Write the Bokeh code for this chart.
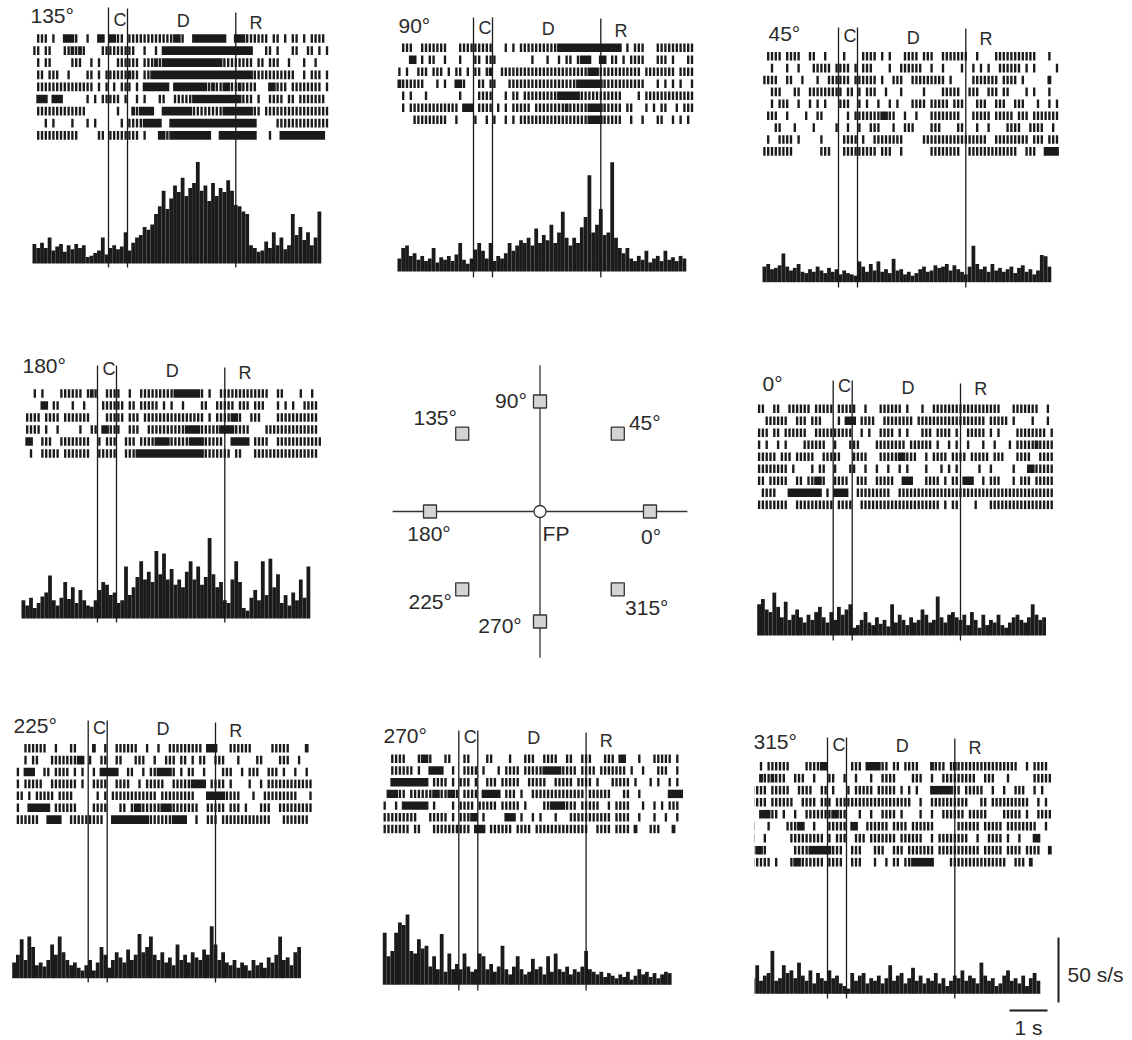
from bokeh.plotting import figure
from bokeh.layouts import column, row
from bokeh.models import Range1d
from bokeh.embed import file_html
from bokeh.resources import INLINE
from bokeh.core.properties import value
import math

# ---------------- data ----------------
T0 = -2.0          # s, start of each record (cue onset = 0)
BIN = 0.1          # s, histogram bin / raster cell
EVENTS = [0.0, 0.5, 3.35]          # cue on, cue off, response
EVENT_LETTERS = ["C", "D", "R"]
LETTER_T = [0.30, 1.97, 3.88]
DIRECTIONS = [135, 90, 45, 180, 0, 225, 270, 315]

RATE_135 = [15,12,16,12,20,10,13,15,9,14, 11,15,12,14,5,6,8,10,20,7, 12,14,11,13,24,10,16,20,22,28,
            26,30,38,44,56,42,50,60,55,66, 52,58,62,78,56,60,48,62,52,58, 55,64,56,45,44,40,38,14,12,9,
            10,17,12,24,14,20,11,14,38,22, 28,18,24,14,20,40]
RATE_90 = [10,18,20,12,14,9,12,8,10,18, 7,11,9,12,8,13,22,9,6,10, 17,22,16,10,22,8,12,10,14,22,
           16,20,24,22,26,20,33,22,28,24, 36,22,30,46,26,20,26,22,34,42, 74,30,36,48,28,30,84,26,18,14,
           18,10,8,12,9,16,7,10,12,8, 16,9,11,8,12,10]
RATE_45 = [12,14,10,11,13,22,12,9,11,14, 8,7,10,8,12,9,7,11,8,10, 6,9,7,6,5,16,12,8,14,9,
           16,8,10,7,18,9,10,6,8,5, 7,10,12,8,9,13,11,12,14,9, 13,10,8,6,12,28,14,10,12,8,
           14,9,11,8,10,12,7,11,13,8, 10,6,9,21,20,12]
RATE_180 = [14,10,16,8,12,17,20,33,14,10, 16,28,15,24,12,22,14,10,9,14, 22,28,26,18,20,12,14,40,18,24,
            32,44,30,36,28,52,34,50,30,38, 26,30,24,36,44,30,40,26,32,62, 34,24,28,14,12,30,44,28,8,6,
            16,22,14,44,18,46,24,34,12,18, 10,20,14,30,16,40]
RATE_0 = [24,28,20,18,33,22,14,26,12,16, 20,14,10,16,12,18,22,14,10,18, 12,22,16,20,24,6,8,12,18,10,
          8,14,9,12,7,24,10,16,12,8, 14,10,12,20,16,10,12,30,14,10, 16,18,14,12,16,8,18,12,6,16,
          8,12,10,16,8,6,10,14,16,12, 10,14,24,16,12,14]
RATE_225 = [12,18,30,14,32,24,10,12,9,14, 26,18,32,20,14,10,12,8,6,10, 14,6,12,24,18,8,14,20,16,12,
            22,14,18,34,20,24,32,18,14,20, 12,16,10,26,14,18,12,20,16,14, 22,18,40,26,14,20,12,10,14,8,
            12,10,6,14,10,12,8,16,12,18, 32,14,16,10,20,24]
RATE_270 = [40,22,26,40,48,46,54,26,24,35, 28,30,14,22,12,39,10,24,12,16, 12,24,14,10,12,24,22,12,16,10,
            14,30,12,8,14,22,12,8,10,20, 12,14,8,22,10,24,12,10,14,8, 12,10,14,26,12,10,8,10,6,9,
            7,5,8,6,10,4,7,12,8,10, 6,9,5,8,10,9]
RATE_315 = [12,22,10,14,16,33,10,12,22,16, 18,12,24,14,10,18,8,16,12,10, 18,12,14,8,6,4,16,10,14,16,
            8,12,10,14,8,12,22,10,14,16, 8,12,20,10,14,8,12,10,16,8, 12,6,10,14,12,18,10,14,12,8,
            24,14,10,12,6,8,14,18,10,12, 8,14,6,12,16,10]

# raster rows: one character per 0.1 s cell: '|' single spike, '#' burst, ' ' none
RASTER_135 = [
    " ||| |  ##" "#|  |  ## " "##|| |||||" "|||||||##|" "  ########" "#  ###||||" "|| || | ||" " | ||||",
    "|| ||   ||" "#|#|    ||" "|||||||  |" "  | ######" "##########" "########  " " || |   ||" "  || | |",
    " | ||     " "|||  | |  " "  |||||| |" "||#|######" "##########" "|||||||| |" "| |||  |  " " |  |",
    " || |||  |" "    || | |" "|||||#|| |" "|#########" "##########" "########||" "||||||||| " " | ||| |",
    " |||||||||" "|||||| | |" " | ||| | #" "###### ###" "######|#||" "##||#|||| " "  ##||| ||" "|||||| |",
    " ### ###  " "    | | ||" "||| |  | |" "   ||  |||" "||########" "#####||| |" "  |||| || " "|||||||",
    " |||||||||" "||||      " "  |   #|##" "##  ######" "##||||||||" "########||" " |||||||||" "||||||||",
    "   | |    " "|   | |   " "   | ||||#" "####  ####" "##########" "######### " "    ||||||" "||||||||",
    " |||||||||" "||     || " "|||||||| |" "   ##|####" "#######  #" "######### " "  |  #####" "#######",
]
RASTER_90 = [
    " |||  ||||" "|||   ||||" "|||||   | " "| ||||||||" "||########" "######### " "| |||   ||" "||||||||",
    "   ## | ||" "  |   |   " "|| |||    " "     |   |" "  | || |##" "#  ## || |" " ||||   ||" "| |   ||",
    "| |  ||| |" "|| | || | " "|| |#  |||" "||||||||||" "||||||||||" "###|||||||" "|||| |||||" "||| ||||",
    "#||||||   " "| |  ##|  " " || ||   |" "||||||||||" "|||||||###" "####||||||" "|||||   | " "| | |  |",
    " | |   |  " "      |   " " ||||   | " "|| |||||||" "||######||" "||||||||| " "   | |||||" "||||||||",
    " | |||||||" "|||||| ###" " |||| | | " "||||| ||||" "||||#|||||" "####||||| " "||   | | |" "|  | |||",
    "    ||||||" "|||  |    " "|  | |  | " "| ||||||||" "||||||||||" "####||||| " " |  |   ||" "  | | |",
]
RASTER_45 = [
    " |||| ||||" "  ||  |   " " |    ||||" " | |   |||" "| |||  |||" "||||  |   " " |||||||||" "||   |",
    "  |   |  |" "   ||||| |" "||| | ||| " "   |  ||||" "||  |  |  " "  |  | | |" "  |||||| |" " |     |",
    "||||  ||  " "|   |  |||" "||| ||||||" " |  |||  |" "|||||||| |" "     |||||" "|| |||| | " "     #",
    "  |||   ||" "  ||||||||" "| || | |||" "  |   |   " "  |    |||" "||  |||  |" "|| ||    |" " |   |",
    "  | |||  |" "  | | |   " "|||  | |  " "|  | |   |" "||| ||||| " "|||   ||| " " |||  ||| " "  |  | |",
    " |||  |   " " |  ||    " "  | ||||||" "|##||  |  " "|   ||||||" "||   |||||" " ||||| |||" " |||||||",
    "   ||   | " "   |     |" "  |  |  ||" "|   |  |||" "    |||   " " ||   |  |" "    ||||  " "||||  |",
    " |  |||| |" "     |    " " |||| |  |" "|||||||   " "  ||||||||" "||||||||| " " |||||||||" " ||| |||",
    "||||||||  " "     |||  " " |||||||||" " |||  |   " "    ||||||" "||  ||||||" "|||||||  |" "||  ####",
]
RASTER_180 = [
    "   | |    " "|||||| |#|" "  ||||  | " " |||||||||" "#######| |" "  ||||||||" "|||||  || " "   |  |",
    "     ## ||" "   |  |   " " |||||| ||" " ||||| | |" "  |    || " " ||||| |||" " |||   | |" " |  ||||",
    " |||| ||||" " |||||||  " "  ||||| ||" "| ||||||||" "|||||||| |" " ||||##|  " "|||    |||" "||||||||",
    " |||| |  |" "     |  ||" " ##|||  ||" "|  |||||||" "|||####|||" "||####||||" "    ||||||" "||||||||",
    " ##  |||  " "||||||||  " "| |||  |||" " ||||####|" "||||####||" "|||  #####" " ||||  |||" "|||||||||",
    "  |  |||||" " |||||||  " "|||||  |||" "##########" "########||" "||||| ||  " " |||||||||" "||||||||",
]
RASTER_0 = [
    "||  ||  ||" "|||| |||||" " |||||  | " "  |||||| |" "   |  ||||" "||||||||||" "||||   |||" "||||  |",
    "  ||||||  " "||| |||   " " | ### |||" "|  |||||||" "| ||||||||" "||||||||||" " ||||| |  " "  |   |",
    "||| || |||" "|||  |||||" "|||||  | |" "  |||| | |" "   ||| |||" "| |  |||||" " | |    ||" "|||||| |",
    "| |  | |  " "  ||||||  " "|   |||   " " |||||||| " "|||||| |  " "| |  |   |" "  |   | ||" "|||#||||",
    "||||| ||| " "|||||  |||" "||   |||| " "  |||||##|" "||  | ||||" " |||| ||||" "| |||   ||" "||  ||||",
    "|||||||| |" "    | ||  " "|   ||  | " " |  |  | |" "    |   | " "| |     | " " |     |  " " ##|||||",
    "|| |||||  " "|| ||##|  " "||||  ||| " " |||||  ##" "#   |||| |" " || ###  |" " |||   | |" "|| |||||",
    " ||||   ##" "####### | " "####  ||||" "|||||  |||" "||||||||||" "||||||||||" "||||||||||" "||||||||",
    "||||||||  " "||||||||||" " ||||  |||" "||||||||||" "|||||||| |" " ||    |  " " |||||||||" "||||||||",
]
RASTER_225 = [
    "   |||||| " " |   ||   " " #  |  |||" "|||  |  | " " |||||||||" " ###   |||" "|||     ||" "|||    #",
    "   | ||   " "|||||||## " "|  ||  || " "  |||  |  " "||| || | |" "|  |||   |" "    ||    " "|||  |",
    " | ###  ||" " |||| | | " " | #####  " "||  | ||##" "##| | ||  " "|    |||  " "| |||  |||" " |  |  |",
    " | |||||  " "||||||| | " " ||||  |||" "|  | |||||" "  |||||###" "# |||| |  " "  |  | |||" "|||||||||",
    " || | ||||" "| ||||    " "  | | ||||" "|||||||| |" "||||||||  " " #####||||" "   |  ||||" "|||||   |",
    " |  ######" " ||||||   " " ||||   ||" " |##|||||#" "##||||||| " " ||||| |||" " |   |||  " "|||||||||",
    " ||||||  #" "###  |||||" "||||  ####" "######||||" "||####  | " " ||| |||||" "||||||||  " " |||||||",
]
RASTER_270 = [
    "  ||||   |" "##|   ||  " " ||    || " "   |   |||" "  ||||  ||" "  |||   ||" "| ##   |  " " ||||| |",
    "  |||||| |" "  ####  | " " |||| |   " "| |||| |||" "||#####|||" "| |||| |||" "|||| |  | " "  |||  |",
    "  ########" "## |||| | " "||| |  |||" " |||||  ||" "|||  |||||" " |||| |   " "||||| |   " "| |  | |",
    " ###|| |||" "|||##||##|" " |||| ####" "# ||| |  |" "||||||||||" "||| ||||||" "   ||  |  " "     ####",
    "|  | #####" "## |    | " "|||| |||||" " ||||| |  " "  ||####||" "| |||||  |" " ||||   | " " | | |||",
    "||||||||| " "  ||||| | " "|||## |   " "  ### |  |" " |   |   |" "||||||||||" " ||||  |  " " |  |  |",
    "||||||| ||" "   |||||||" "||| ### ||" "|||| |||| " "||||||||||" "||||  ||||" " |||| #   " "|||   #",
]
RASTER_315 = [
    "  | ||||||" "    ||||##" "      ||| " "####|| || " "||||   #||" "| |#||||||" "||||||||||" "  | ||||",
    "  #||#||| " " |||  |   " "||  |  |  " " |  ||||  " "  |||  |  " "||||||||| " " |||   |  " "    |||||",
    "|||| |||||" "  ||||  ||" " |   | |||" "|| ||||| |" " | |   ###" "###|| ||||" "|  |  |  |" "||  | |",
    "|||| |||||" "|  |||| ||" "| ||||||||" "||||||||||" "||  |  |||" "|||||||   " "|| |||||||" "|||  | |",
    "  ###|| | " " |  ||||||" "|##||   | " " |  |||| |" "    |  |  " "|||||| |||" "||    ||||" "| |  ||||",
    "|   |    |" "||##  |   " "||||| ##  " "|||||| |||" "| ||||||  " "    ||||||" " ||||| |||" "|||||  |",
    "|  |      " "||||||||| " "| |||  |||" " ||||||| |" "|||||  | |" "|||||||  |" "  |||| |  " "|   ##",
    "|##|      " " ||||#####" "#|||  ||| " "  |||  |||" " ||||||| |" "||||||||||" " ||||| |||" "| ||||  #",
    "||||| |   " "|##|||||| " "||||  ||| " "  |  | || " "||######  " "  ||||||||" "|||||||  |" "|| #",
]

TARGET_ANGLES = [0, 45, 90, 135, 180, 225, 270, 315]
TARGET_LABELS = ["0°", "45°", "90°", "135°", "180°", "225°", "270°", "315°"]
TARGET_ECC = 1.0
SCALE_RATE = 50      # s/s
SCALE_TIME = 1.0     # s

RATES = {135: RATE_135, 90: RATE_90, 45: RATE_45, 180: RATE_180,
         0: RATE_0, 225: RATE_225, 270: RATE_270, 315: RATE_315}
RASTERS = {135: RASTER_135, 90: RASTER_90, 45: RASTER_45, 180: RASTER_180,
           0: RASTER_0, 225: RASTER_225, 270: RASTER_270, 315: RASTER_315}

# ---------------- layout / style ----------------
PX_PER_S = 38.0
PX_PER_RATE = 1.3
COL_X = [0, 377, 754]
COL_W = [377, 377, 378]
ROW_Y = [0, 346, 692]
ROW_H = [346, 346, 348]
FONT = "Liberation Sans"
INK = "#1b1b1b"
TXT = "#2a2a2a"

LAYOUT = {
    135: dict(cell=(0, 0), left=32, base=263, r0=38.0, gap=12.1, label=(30, 15), ev_top=(7, 8, 12), ev_bot=267, let_y=(19, 20, 22)),
    90: dict(cell=(0, 1), left=397, base=271, r0=47.3, gap=12.0, label=(398, 24.5), ev_top=(17, 17, 18), ev_bot=277, let_y=(27, 28, 30)),
    45: dict(cell=(0, 2), left=762, base=281.7, r0=55.7, gap=11.9, label=(768, 33), ev_top=(27, 27, 28), ev_bot=287, let_y=(35, 37, 38)),
    180: dict(cell=(1, 0), left=21, base=618, r0=393.0, gap=12.0, label=(22, 365), ev_top=(365, 365, 367), ev_bot=622, let_y=(368, 370, 372)),
    0: dict(cell=(1, 2), left=756.7, base=635, r0=408.3, gap=12.0, label=(762, 382.5), ev_top=(380, 380, 383), ev_bot=640, let_y=(385, 387, 388)),
    225: dict(cell=(2, 0), left=11.7, base=977.7, r0=747.7, gap=11.9, label=(13, 725), ev_top=(720, 720, 722), ev_bot=982, let_y=(727, 728, 730)),
    270: dict(cell=(2, 1), left=382.3, base=984.3, r0=758.3, gap=11.7, label=(383, 734.5), ev_top=(730, 730, 732), ev_bot=990, let_y=(736, 737, 740)),
    315: dict(cell=(2, 2), left=751, base=993.3, r0=765.7, gap=12.0, label=(753, 741), ev_top=(737, 737, 738), ev_bot=998, let_y=(744, 745, 747)),
}


def base_fig(cx, cy, cw, ch, x_range, y_range):
    p = figure(width=cw, height=ch, x_range=x_range, y_range=y_range,
               output_backend="svg", toolbar_location=None,
               x_axis_location=None, y_axis_location=None,
               min_border=0, outline_line_color=None,
               background_fill_color="white", border_fill_color="white")
    p.grid.grid_line_color = None
    p.extra_x_ranges = {"px": Range1d(cx, cx + cw)}
    return p


def panel(direction):
    L = LAYOUT[direction]
    r, c = L["cell"]
    cx, cy, cw, ch = COL_X[c], ROW_Y[r], COL_W[c], ROW_H[r]
    t_start = T0 - (L["left"] - cx) / PX_PER_S
    y_start = -(cy + ch - L["base"]) / PX_PER_RATE
    p = base_fig(cx, cy, cw, ch,
                 Range1d(t_start, t_start + cw / PX_PER_S),
                 Range1d(y_start, y_start + ch / PX_PER_RATE))
    p.extra_y_ranges = {
        "trial": Range1d((cy + ch - L["r0"]) / L["gap"], (cy - L["r0"]) / L["gap"]),
        "px": Range1d(cy + ch, cy),
    }
    # histogram
    rates = RATES[direction]
    lefts = [T0 + BIN * i for i in range(len(rates))]
    rights = [l + BIN for l in lefts]
    p.quad(left=lefts, right=rights, bottom=0, top=rates, fill_color=INK, line_color=None)
    # raster
    tx, ty, bl, br, by = [], [], [], [], []
    for k, s in enumerate(RASTERS[direction]):
        i = 0
        while i < len(s):
            if s[i] == "|":
                tx.append(T0 + BIN * (i + 0.5)); ty.append(k); i += 1
            elif s[i] == "#":
                j = i
                while j < len(s) and s[j] == "#":
                    j += 1
                bl.append(T0 + BIN * i); br.append(T0 + BIN * j); by.append(k); i = j
            else:
                i += 1
    p.rect(x=tx, y=ty, width=0.062, height=0.72, y_range_name="trial", fill_color=INK, line_color=None)
    p.quad(left=bl, right=br, top=[v - 0.36 for v in by], bottom=[v + 0.36 for v in by],
           y_range_name="trial", fill_color=INK, line_color=None)
    # event lines
    p.segment(x0=EVENTS, x1=EVENTS, y0=list(L["ev_top"]), y1=[L["ev_bot"]] * 3,
              y_range_name="px", line_color=INK, line_width=1.3)
    p.text(x=LETTER_T, y=list(L["let_y"]), text=EVENT_LETTERS, y_range_name="px",
           text_font=value(FONT), text_font_size="18px", text_align="center",
           text_baseline="middle", text_color=TXT)
    p.text(x=[L["label"][0]], y=[L["label"][1]], text=[f"{direction}°"],
           x_range_name="px", y_range_name="px", text_font=value(FONT),
           text_font_size="21px", text_align="left", text_baseline="middle", text_color=TXT)
    if direction == 315:
        # calibration bars
        yb = (L["base"] - 1002) / PX_PER_RATE
        p.segment(x0=[1058], x1=[1058], y0=[yb], y1=[yb + SCALE_RATE], x_range_name="px",
                  line_color=INK, line_width=2)
        xb = T0 + (1009 - L["left"]) / PX_PER_S
        yh = (L["base"] - 1010) / PX_PER_RATE
        p.segment(x0=[xb], x1=[xb + SCALE_TIME], y0=[yh], y1=[yh], line_color=INK, line_width=2)
        p.text(x=[1067], y=[974], text=[f"{SCALE_RATE} s/s"], x_range_name="px", y_range_name="px",
               text_font=value(FONT), text_font_size="21px", text_align="left",
               text_baseline="middle", text_color=TXT)
        p.text(x=[xb + SCALE_TIME / 2], y=[1015], text=[f"{SCALE_TIME:g} s"], y_range_name="px",
               text_font=value(FONT), text_font_size="21px", text_align="center",
               text_baseline="top", text_color=TXT)
    return p


def center_fig():
    cx, cy, cw, ch = COL_X[1], ROW_Y[1], COL_W[1], ROW_H[1]
    ox, oy, unit = 539.5, 511.0, 110.0
    p = base_fig(cx, cy, cw, ch,
                 Range1d((cx - ox) / unit, (cx + cw - ox) / unit),
                 Range1d((oy - (cy + ch)) / unit, (oy - cy) / unit))
    p.segment(x0=[-1.34, 0], x1=[1.34, 0], y0=[0, -1.33], y1=[0, 1.33], line_color="#333333", line_width=1.3)
    tx = [TARGET_ECC * math.cos(math.radians(a)) for a in TARGET_ANGLES]
    ty = [TARGET_ECC * math.sin(math.radians(a)) for a in TARGET_ANGLES]
    p.scatter(tx, ty, marker="square", size=13, fill_color="#d4d4d4", line_color="#333333", line_width=1.3)
    p.scatter([0], [0], marker="circle", size=12, fill_color="white", line_color="#333333", line_width=1.3)
    # label offsets (px) from each target: 0,45,90,135,180,225,270,315
    dx = [1, 27, -29, -27, -1, -32, -40, 29]
    dy = [24.5, -11, -1, -16, 21.5, 12.5, 3.5, 18]
    p.text(x=tx, y=ty, text=TARGET_LABELS, x_offset=dx, y_offset=dy, text_font=value(FONT),
           text_font_size="21px", text_align="center", text_baseline="middle", text_color=TXT)
    p.text(x=[0], y=[0], text=["FP"], x_offset=[16], y_offset=[21.5], text_font=value(FONT),
           text_font_size="21px", text_align="center", text_baseline="middle", text_color=TXT)
    return p


figs = {d: panel(d) for d in DIRECTIONS}
layout = column(
    row(figs[135], figs[90], figs[45]),
    row(figs[180], center_fig(), figs[0]),
    row(figs[225], figs[270], figs[315]),
)

open("out.html", "w", encoding="utf-8").write(file_html(layout, INLINE))
